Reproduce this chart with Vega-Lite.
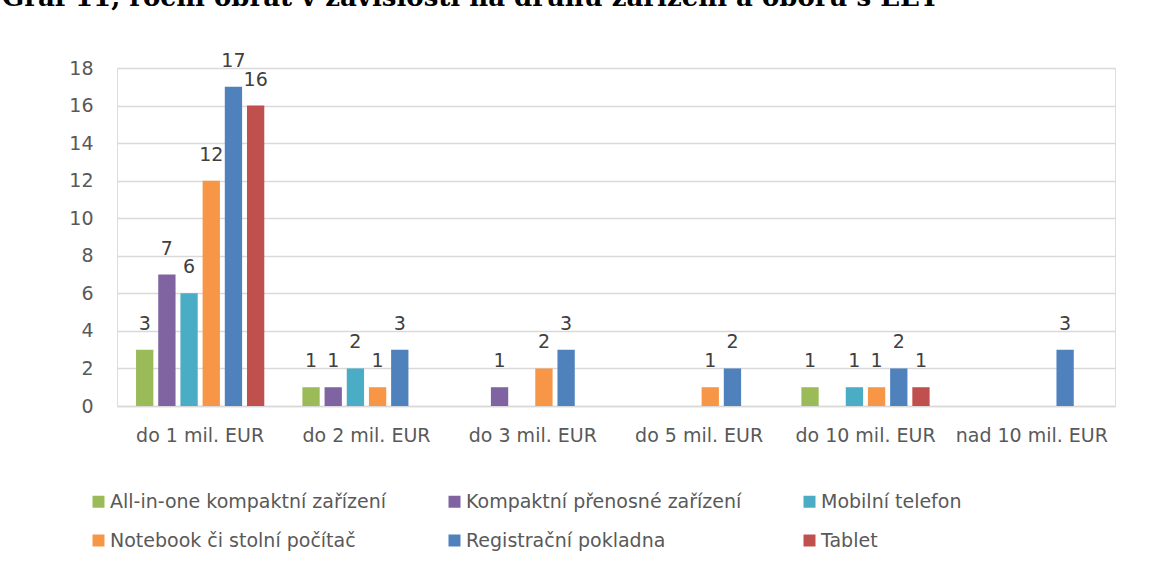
{
  "$schema": "https://vega.github.io/schema/vega-lite/v6.json",
  "width": 998,
  "height": 338,
  "autosize": {"type": "none"},
  "padding": {"left": 117, "top": 68, "right": 54, "bottom": 163},
  "background": "white",
  "title": {
    "text": "Graf 11, roční obrat v závislosti na druhu zařízení a oboru s EET",
    "anchor": "start",
    "frame": "group",
    "dx": -115,
    "dy": -20,
    "font": "DejaVu Serif",
    "fontSize": 26,
    "fontWeight": "bold",
    "color": "#000000",
    "baseline": "alphabetic",
    "offset": 0
  },
  "data": {
    "values": [
      {"obrat": "do 1 mil. EUR", "zarizeni": "All-in-one kompaktní zařízení", "pocet": 3},
      {"obrat": "do 1 mil. EUR", "zarizeni": "Kompaktní přenosné zařízení", "pocet": 7},
      {"obrat": "do 1 mil. EUR", "zarizeni": "Mobilní telefon", "pocet": 6},
      {"obrat": "do 1 mil. EUR", "zarizeni": "Notebook či stolní počítač", "pocet": 12},
      {"obrat": "do 1 mil. EUR", "zarizeni": "Registrační pokladna", "pocet": 17},
      {"obrat": "do 1 mil. EUR", "zarizeni": "Tablet", "pocet": 16},
      {"obrat": "do 2 mil. EUR", "zarizeni": "All-in-one kompaktní zařízení", "pocet": 1},
      {"obrat": "do 2 mil. EUR", "zarizeni": "Kompaktní přenosné zařízení", "pocet": 1},
      {"obrat": "do 2 mil. EUR", "zarizeni": "Mobilní telefon", "pocet": 2},
      {"obrat": "do 2 mil. EUR", "zarizeni": "Notebook či stolní počítač", "pocet": 1},
      {"obrat": "do 2 mil. EUR", "zarizeni": "Registrační pokladna", "pocet": 3},
      {"obrat": "do 3 mil. EUR", "zarizeni": "Kompaktní přenosné zařízení", "pocet": 1},
      {"obrat": "do 3 mil. EUR", "zarizeni": "Notebook či stolní počítač", "pocet": 2},
      {"obrat": "do 3 mil. EUR", "zarizeni": "Registrační pokladna", "pocet": 3},
      {"obrat": "do 5 mil. EUR", "zarizeni": "Notebook či stolní počítač", "pocet": 1},
      {"obrat": "do 5 mil. EUR", "zarizeni": "Registrační pokladna", "pocet": 2},
      {"obrat": "do 10 mil. EUR", "zarizeni": "All-in-one kompaktní zařízení", "pocet": 1},
      {"obrat": "do 10 mil. EUR", "zarizeni": "Mobilní telefon", "pocet": 1},
      {"obrat": "do 10 mil. EUR", "zarizeni": "Notebook či stolní počítač", "pocet": 1},
      {"obrat": "do 10 mil. EUR", "zarizeni": "Registrační pokladna", "pocet": 2},
      {"obrat": "do 10 mil. EUR", "zarizeni": "Tablet", "pocet": 1},
      {"obrat": "nad 10 mil. EUR", "zarizeni": "Registrační pokladna", "pocet": 3}
    ]
  },
  "encoding": {
    "x": {
      "field": "obrat",
      "type": "nominal",
      "sort": ["do 1 mil. EUR", "do 2 mil. EUR", "do 3 mil. EUR", "do 5 mil. EUR", "do 10 mil. EUR", "nad 10 mil. EUR"],
      "scale": {"paddingInner": 0.229, "paddingOuter": 0.1145},
      "axis": {
        "title": null,
        "labelAngle": 0,
        "labelFont": "DejaVu Sans",
        "labelFontSize": 19,
        "labelColor": "#595959",
        "labelPadding": 20,
        "ticks": false,
        "domain": true,
        "domainColor": "#d9d9d9",
        "domainWidth": 1.5,
        "grid": false
      }
    },
    "xOffset": {
      "field": "zarizeni",
      "type": "nominal",
      "scale": {
        "domain": ["All-in-one kompaktní zařízení", "Kompaktní přenosné zařízení", "Mobilní telefon", "Notebook či stolní počítač", "Registrační pokladna", "Tablet"],
        "paddingInner": 0.22,
        "paddingOuter": 0
      }
    },
    "y": {
      "field": "pocet",
      "type": "quantitative",
      "scale": {"domain": [0, 18], "nice": false},
      "axis": {
        "title": null,
        "values": [0, 2, 4, 6, 8, 10, 12, 14, 16, 18],
        "labelFont": "DejaVu Sans",
        "labelFontSize": 19,
        "labelColor": "#595959",
        "labelPadding": 24,
        "domain": false,
        "ticks": false,
        "grid": true,
        "gridColor": "#d9d9d9",
        "gridWidth": 1.5
      }
    }
  },
  "layer": [
    {
      "mark": {"type": "bar"},
      "encoding": {
        "color": {
          "field": "zarizeni",
          "type": "nominal",
          "scale": {
            "domain": ["All-in-one kompaktní zařízení", "Kompaktní přenosné zařízení", "Mobilní telefon", "Notebook či stolní počítač", "Registrační pokladna", "Tablet"],
            "range": ["#9BBB59", "#8064A2", "#4BACC6", "#F79646", "#4F81BD", "#C0504D"]
          },
          "legend": {
            "title": null,
            "orient": "none",
            "direction": "horizontal",
            "legendX": -28,
            "legendY": 424,
            "columns": 3,
            "columnPadding": 58,
            "rowPadding": 19,
            "symbolType": "square",
            "symbolSize": 144,
            "symbolStrokeWidth": 0,
            "labelFont": "DejaVu Sans",
            "labelFontSize": 19,
            "labelColor": "#595959",
            "labelOffset": 2,
            "labelLimit": 400
          }
        }
      }
    },
    {
      "mark": {"type": "text", "dy": -26, "baseline": "middle", "font": "DejaVu Sans", "fontSize": 19, "color": "#404040"},
      "encoding": {"text": {"field": "pocet", "type": "quantitative"}}
    }
  ]
}
